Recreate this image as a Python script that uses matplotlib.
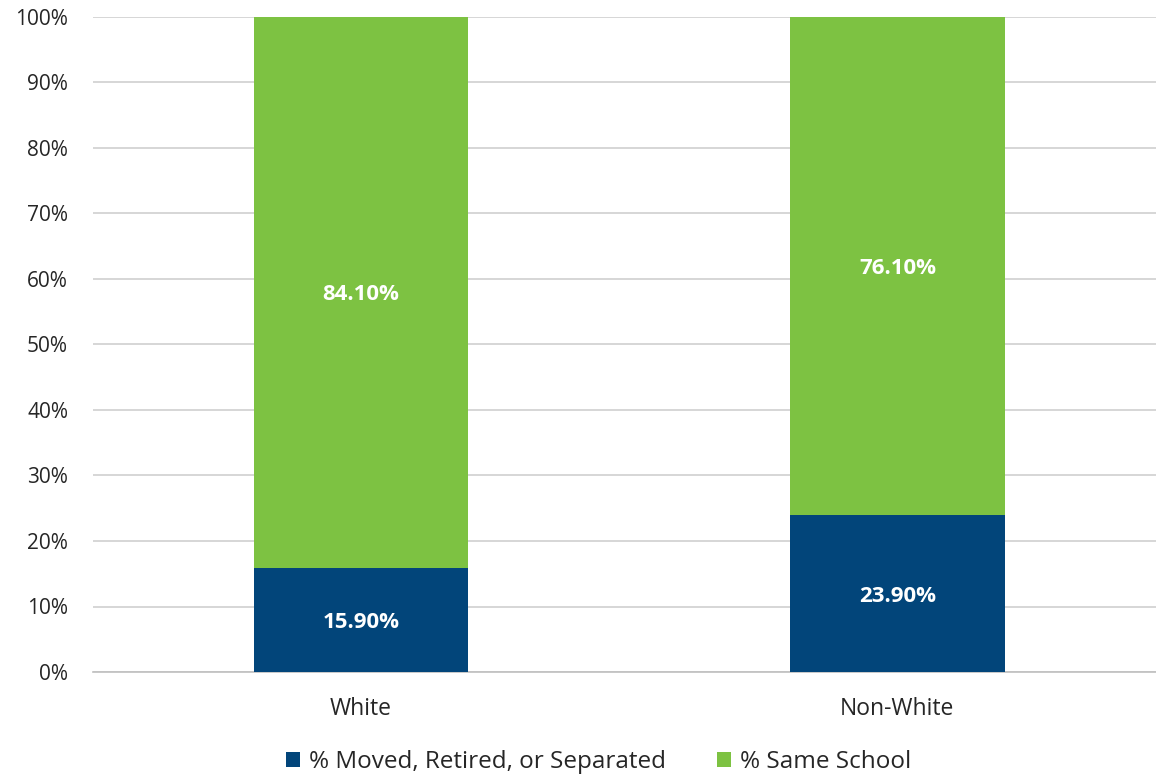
import matplotlib
matplotlib.use("Agg")
import matplotlib.pyplot as plt
import numpy as np

categories = ["White", "Non-White"]
moved = [15.9, 23.9]
same = [84.1, 76.1]
series_names = ["% Moved, Retired, or Separated", "% Same School"]
yticks = [0, 10, 20, 30, 40, 50, 60, 70, 80, 90, 100]

plt.rcParams['font.family'] = ['Open Sans', 'DejaVu Sans']

fig = plt.figure(figsize=(11.56, 7.8), dpi=100)
ax = fig.add_axes([93/1156, 108/780, (1156-93)/1156, (672-17)/780])

x = np.arange(len(categories))
w = 0.4
c_blue = "#02457A"
c_green = "#7DC242"
b1 = ax.bar(x, moved, w, color=c_blue, label=series_names[0], zorder=3)
b2 = ax.bar(x, same, w, bottom=moved, color=c_green, label=series_names[1], zorder=3)

for i in range(len(categories)):
    ax.text(x[i], moved[i] / 2, f"{moved[i]:.2f}%", ha='center', va='center_baseline',
            color='white', fontsize=16, fontweight='bold', zorder=4)
    ax.text(x[i], moved[i] + same[i] / 2, f"{same[i]:.2f}%", ha='center', va='center_baseline',
            color='white', fontsize=16, fontweight='bold', zorder=4)

ax.set_xlim(-0.4995, 1.482)
ax.set_ylim(0, 100)
ax.set_yticks(yticks)
ax.set_yticklabels([f"{t}%" for t in yticks], fontsize=15, color='#262626')
ax.set_xticks(x)
ax.set_xticklabels(categories, fontsize=16.5, color='#262626')
ax.tick_params(axis='both', length=0)
ax.tick_params(axis='y', pad=18)
ax.tick_params(axis='x', pad=18)
ax.grid(axis='y', color='#D0D0D0', linewidth=1.2, zorder=0)
for s in ['top', 'right', 'left']:
    ax.spines[s].set_visible(False)
ax.spines['bottom'].set_color('#BFBFBF')
ax.spines['bottom'].set_linewidth(1.2)

fig.legend(handles=[b1, b2], labels=series_names, loc='center', bbox_to_anchor=(599/1156, 1 - 762/780),
           ncol=2, frameon=False, fontsize=17.5, handlelength=0.55, handleheight=0.55,
           handletextpad=0.4, columnspacing=2.1, labelcolor='#262626')

fig.savefig("out.png", dpi=100)
